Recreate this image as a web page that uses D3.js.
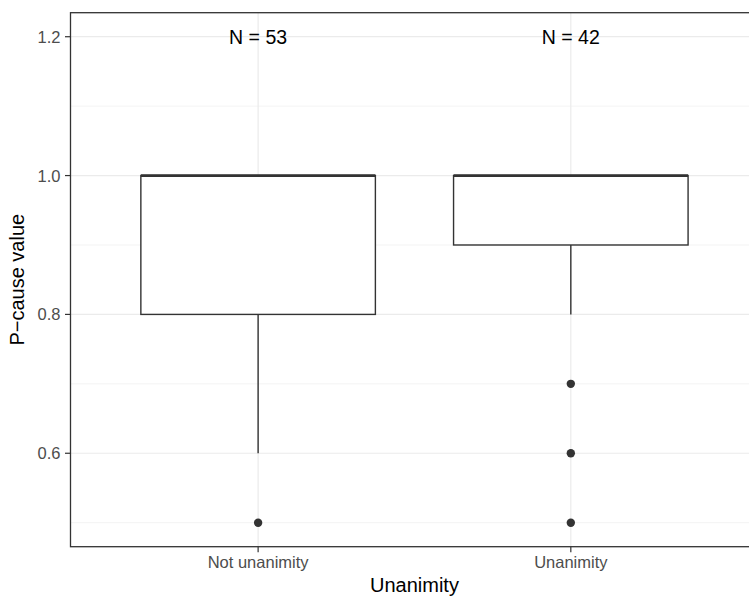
<!DOCTYPE html>
<html>
<head>
<meta charset="utf-8">
<script src="https://cdn.jsdelivr.net/npm/d3@7"></script>
<style>
  body { margin: 0; background: #fff; }
  text { font-family: "Liberation Sans", Arial, sans-serif; }
</style>
</head>
<body>
<div id="chart"></div>
<script>
(function () {
    // data
    var categories = ["Not unanimity", "Unanimity"]
    var counts = [53, 42]
    var whiskerLow = [0.6, 0.8]
    var q1 = [0.8, 0.9]
    var medians = [1.0, 1.0]
    var q3 = [1.0, 1.0]
    var whiskerHigh = [1.0, 1.0]
    var outliers = [[0.5], [0.7, 0.6, 0.5]]
    var yMajor = [0.6, 0.8, 1.0, 1.2]
    var yMinor = [0.5, 0.7, 0.9, 1.1]

    var width = 749, height = 597
    var left = 70.5, top = 12.7, bottom = 546.7
    var unit = 312.7 // px per category step

    var svg = d3.select("#chart").append("svg").attr("width", width).attr("height", height)

    var x = d3.scaleLinear().domain([0.4, 2.6]).range([left, left + 2.2 * unit])
    var y = d3.scaleLinear().domain([0.4654, 1.2346]).range([bottom, top])
    var right = x(2.6)

    // minor grid
    svg.append("g").selectAll("line").data(yMinor).join("line")
        .attr("x1", left).attr("x2", right)
        .attr("y1", d => y(d)).attr("y2", d => y(d))
        .attr("stroke", "#EBEBEB").attr("stroke-width", 0.6)
    // major grid
    svg.append("g").selectAll("line").data(yMajor).join("line")
        .attr("x1", left).attr("x2", right)
        .attr("y1", d => y(d)).attr("y2", d => y(d))
        .attr("stroke", "#EBEBEB").attr("stroke-width", 1.2)
    svg.append("g").selectAll("line").data(categories).join("line")
        .attr("x1", (d, i) => x(i + 1)).attr("x2", (d, i) => x(i + 1))
        .attr("y1", top).attr("y2", bottom)
        .attr("stroke", "#EBEBEB").attr("stroke-width", 1.2)

    // boxes
    var boxW = 0.75
    var g = svg.append("g").selectAll("g").data(categories).join("g")
    g.append("line")
        .attr("x1", (d, i) => x(i + 1)).attr("x2", (d, i) => x(i + 1))
        .attr("y1", (d, i) => y(whiskerLow[i])).attr("y2", (d, i) => y(q1[i]))
        .attr("stroke", "#333333").attr("stroke-width", 1.4)
    g.append("line")
        .attr("x1", (d, i) => x(i + 1)).attr("x2", (d, i) => x(i + 1))
        .attr("y1", (d, i) => y(whiskerHigh[i])).attr("y2", (d, i) => y(q3[i]))
        .attr("stroke", "#333333").attr("stroke-width", 1.4)
    g.append("rect")
        .attr("x", (d, i) => x(i + 1 - boxW / 2))
        .attr("width", (d, i) => x(i + 1 + boxW / 2) - x(i + 1 - boxW / 2))
        .attr("y", (d, i) => y(q3[i]))
        .attr("height", (d, i) => y(q1[i]) - y(q3[i]))
        .attr("fill", "white").attr("stroke", "#333333").attr("stroke-width", 1.4)
    g.append("line")
        .attr("x1", (d, i) => x(i + 1 - boxW / 2)).attr("x2", (d, i) => x(i + 1 + boxW / 2))
        .attr("y1", (d, i) => y(medians[i])).attr("y2", (d, i) => y(medians[i]))
        .attr("stroke", "#333333").attr("stroke-width", 2.8)
    g.each(function (d, i) {
        d3.select(this).selectAll("circle").data(outliers[i]).join("circle")
            .attr("cx", x(i + 1)).attr("cy", v => y(v)).attr("r", 4.2)
            .attr("fill", "#333333")
    })

    // N labels
    svg.append("g").selectAll("text").data(counts).join("text")
        .attr("x", (d, i) => x(i + 1)).attr("y", y(1.2))
        .attr("dy", "0.36em").attr("text-anchor", "middle")
        .attr("font-size", 19.5).attr("fill", "black")
        .text(d => "N = " + d)

    // panel border
    svg.append("rect").attr("x", left).attr("y", top)
        .attr("width", right - left).attr("height", bottom - top)
        .attr("fill", "none").attr("stroke", "#333333").attr("stroke-width", 1.3)

    // y axis
    var yAxis = svg.append("g")
    yAxis.selectAll("line").data(yMajor).join("line")
        .attr("x1", left - 5.5).attr("x2", left)
        .attr("y1", d => y(d)).attr("y2", d => y(d))
        .attr("stroke", "#333333").attr("stroke-width", 1.2)
    yAxis.selectAll("text").data(yMajor).join("text")
        .attr("x", left - 10).attr("y", d => y(d)).attr("dy", "0.36em")
        .attr("text-anchor", "end").attr("font-size", 16.5).attr("fill", "#4D4D4D")
        .text(d => d3.format(".1f")(d))

    // x axis
    var xAxis = svg.append("g")
    xAxis.selectAll("line").data(categories).join("line")
        .attr("x1", (d, i) => x(i + 1)).attr("x2", (d, i) => x(i + 1))
        .attr("y1", bottom).attr("y2", bottom + 5.5)
        .attr("stroke", "#333333").attr("stroke-width", 1.2)
    xAxis.selectAll("text").data(categories).join("text")
        .attr("x", (d, i) => x(i + 1)).attr("y", bottom + 21)
        .attr("text-anchor", "middle").attr("font-size", 16.5).attr("fill", "#4D4D4D")
        .text(d => d)

    // titles
    svg.append("text").attr("x", (left + right) / 2).attr("y", 592)
        .attr("text-anchor", "middle").attr("font-size", 20).attr("fill", "black")
        .text("Unanimity")
    svg.append("text")
        .attr("transform", "translate(24," + ((top + bottom) / 2) + ") rotate(-90)")
        .attr("text-anchor", "middle").attr("font-size", 20).attr("fill", "black")
        .text("P\u2212cause value")
})();
</script>
</body>
</html>
